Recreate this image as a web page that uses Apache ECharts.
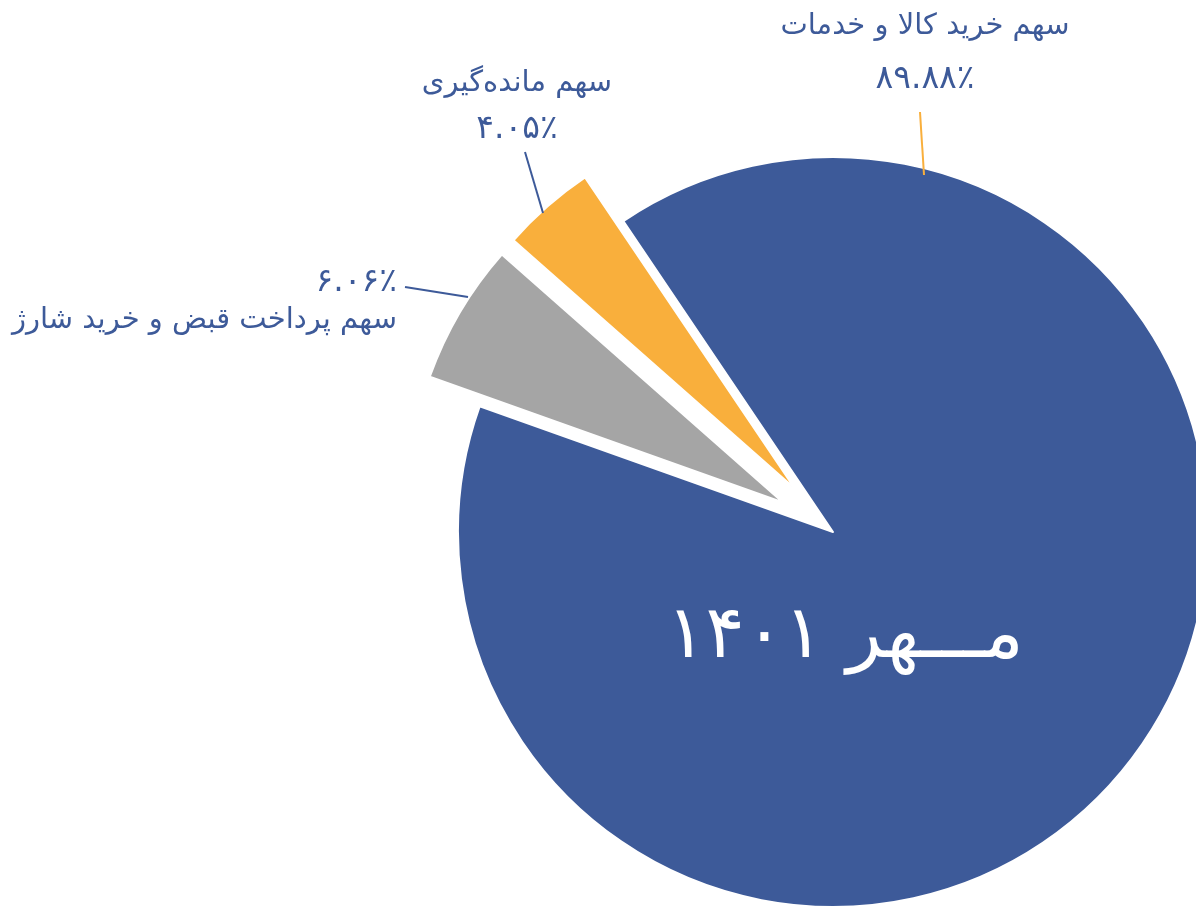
<!DOCTYPE html>
<html><head><meta charset="utf-8">
<script src="https://cdn.jsdelivr.net/npm/echarts@6/dist/echarts.min.js"></script>
<style>html,body{margin:0;padding:0;background:#fff}#c{width:1196px;height:907px}</style>
</head><body><div id="c"></div>
<script>
// ---- data ----
const categories = ['سهم خرید کالا و خدمات', 'سهم پرداخت قبض و خرید شارژ', 'سهم مانده‌گیری'];
const shares = [89.88, 6.06, 4.05];
const centerTitle = 'مـــهر ۱۴۰۱';

// ---- styles / layout ----
const colors = ['#3D5A99', '#A5A5A5', '#F9AF3C'];
const lineColors = ['#F9AF3C', '#3D5A99', '#3D5A99'];
const exploded = [false, true, true];
const FONT = 'DejaVu Sans';
const TEXT = '#3D5A99';
const PIE_CENTER = [833, 532];
const PIE_RADIUS = 375;
const START_ANGLE = 124;
// label anchor, alignment, line spacing, and leader line (relative to anchor)
const labelSpecs = [
  {x: 925, y: 53, align: 'center', lh: 53, pctFirst: false, line: [[-5, 59], [-1, 122]]},
  {x: 397, y: 301, align: 'right', lh: 38, pctFirst: true, line: [[8, -14], [71, -4]]},
  {x: 517, y: 106, align: 'center', lh: 46, pctFirst: false, line: [[8, 46], [26, 107]]}
];

function fa(n) {
  return n.toFixed(2).replace(/\d/g, d => '۰۱۲۳۴۵۶۷۸۹'[+d]) + '٪';
}

const chart = echarts.init(document.getElementById('c'), null, {renderer: 'canvas'});

const pieData = categories.map((name, i) => ({
  name: name, value: shares[i], selected: exploded[i],
  itemStyle: {color: colors[i]}
}));

const labelData = categories.map((name, i) => ({
  name: name, value: shares[i],
  label: {
    rich: {
      n: {fontSize: 29, fontFamily: FONT, color: TEXT, lineHeight: labelSpecs[i].lh},
      p: {fontSize: 33, fontFamily: FONT, color: TEXT, lineHeight: labelSpecs[i].lh}
    }
  },
  labelLine: {lineStyle: {color: lineColors[i], width: 2}}
}));

chart.setOption({
  animation: false,
  backgroundColor: '#ffffff',
  graphic: [{
    type: 'text', x: 845, y: 638, z: 100,
    style: {text: centerTitle, fill: '#ffffff', font: '73px "' + FONT + '"', align: 'center', verticalAlign: 'middle'}
  }],
  series: [{
    type: 'pie',
    center: PIE_CENTER,
    radius: PIE_RADIUS,
    startAngle: START_ANGLE,
    clockwise: true,
    selectedMode: 'multiple',
    selectedOffset: 58,
    silent: true,
    emphasis: {scale: false},
    itemStyle: {borderColor: '#ffffff', borderWidth: 2},
    label: {show: false},
    labelLine: {show: false},
    data: pieData
  }, {
    type: 'pie',
    center: PIE_CENTER,
    radius: PIE_RADIUS,
    startAngle: START_ANGLE,
    clockwise: true,
    silent: true,
    z: 3,
    selectedMode: false,
    avoidLabelOverlap: false,
    emphasis: {scale: false},
    itemStyle: {color: 'rgba(0,0,0,0)', borderWidth: 0},
    label: {
      show: true,
      position: 'outside',
      formatter: p => {
        const n = '{n|' + p.name + '}', v = '{p|' + fa(p.value) + '}';
        return labelSpecs[p.dataIndex].pctFirst ? v + '\n' + n : n + '\n' + v;
      }
    },
    labelLine: {show: true, length: 10, length2: 0, smooth: false},
    labelLayout: p => {
      const s = labelSpecs[p.dataIndex];
      const a = [s.x + s.line[0][0], s.y + s.line[0][1]];
      const b = [s.x + s.line[1][0], s.y + s.line[1][1]];
      return {x: s.x, y: s.y, align: s.align, verticalAlign: 'middle', labelLinePoints: [b, a, a]};
    },
    data: labelData
  }]
});
</script></body></html>
